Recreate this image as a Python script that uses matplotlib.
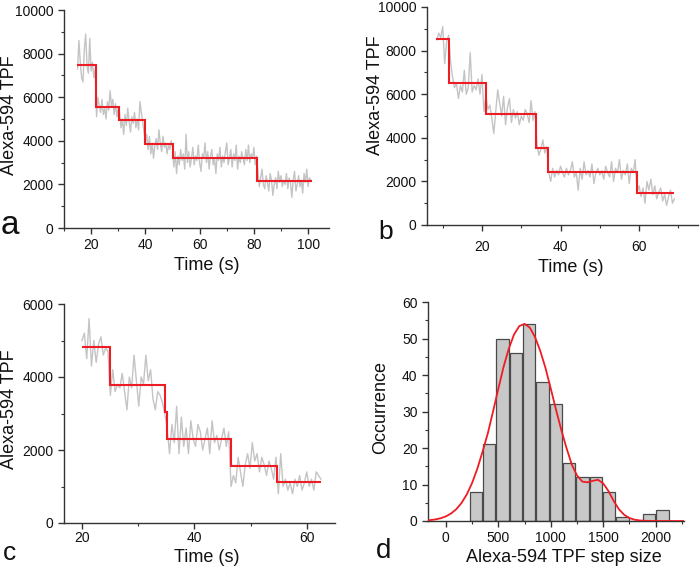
import numpy as np
import matplotlib
matplotlib.use("Agg")
import matplotlib.pyplot as plt
from matplotlib.ticker import MultipleLocator

plt.rcParams['font.family'] = ['Liberation Sans', 'DejaVu Sans']

# ---------------- data ----------------
# Panel a: raw trace (0.5 s sampling from 15 s to 101 s)
a_t_range = (15.0, 101.0)
a_trace = [7300, 8600, 7600, 6900, 6700, 8200, 8900, 7400, 7100, 8700, 7200, 7600, 6900, 7300,
           5100, 6000, 5600, 5300, 5900, 5200, 5500, 5000, 5800, 5400, 6300, 5600, 5900, 5200, 5700, 5100, 5500,
           5300, 4600, 5000, 4300, 5200, 4700, 5500, 4900, 4400, 5100, 4800, 5300, 4600, 5000, 4500, 5800, 5300, 4900, 4400,
           3900, 4300, 3600, 4200, 3400, 3900, 3200, 3800, 4100, 3600, 4500, 3900, 3500, 4200, 3700, 3900, 3400, 3800, 3600, 4000, 3700,
           2800, 3500, 2500, 3300, 2900, 3600, 3100, 3400, 2700, 4300, 3000, 3500, 2800, 3200, 3700, 2900, 3300, 3100, 3800, 3000,
           2600, 3400, 3200, 3900, 3000, 3500, 2700, 3300, 3600, 2900, 3200, 2500, 3400, 3100, 3700, 2800, 3300, 3000, 3500, 3900,
           2900, 3200, 3600, 2800, 3400, 3100, 3800, 2700, 3300, 3000, 3500, 3200, 2900, 3600, 3100, 3800, 3000, 3400, 3200, 3700,
           2900, 3300,
           2600, 1900, 2300, 2700, 2000, 1800, 2400, 2100, 1700, 2500, 2200, 1500, 2000, 2300, 1800, 2600, 2100, 2400, 1900, 2200,
           2000, 2500, 1800, 2300, 2100, 1400, 2200, 2600, 1700, 2000, 2400, 1900, 2200, 1600, 2500, 2100, 2700, 1900, 2300, 2200]
a_step_edges = [14.7, 21.8, 30.4, 39.9, 50.3, 81.1, 101.4]
a_step_levels = [7500, 5550, 4950, 3850, 3230, 2170]

# Panel b
b_t_range = (8.5, 69.0)
b_trace = [8500, 8800, 8600, 9100, 7400, 8400, 8700,
           7500, 6800, 6300, 6500, 5800, 6400, 6100, 7100, 6000, 6300, 7900, 6100, 6400, 6200, 6700, 6000, 6900, 5200,
           5900, 5300, 5500, 4900, 4200, 5200, 6200, 5600, 5000, 5900, 4600, 5400, 5800, 4700, 5300, 4900, 5200, 4600,
           5000, 4800, 5300, 5100, 4700, 5700, 4800, 5200,
           3700, 3200, 3500, 3900, 3300, 3600,
           2400, 2000, 2600, 2200, 2500, 2300, 2700, 2400, 2200, 2600, 2300, 2500, 2900, 2200, 2400, 1600, 2600, 2100, 2900, 2300,
           2500, 2200, 2800, 1900, 2400, 2600, 2300, 2500, 2100, 2700, 2400, 2200, 2900, 2000, 2600, 2400, 3000, 2100, 2500, 2300,
           2800, 1900, 2600, 2400, 3000,
           1500, 1800, 1300, 1700, 1000, 2000, 1600, 2100, 1400, 1800, 1200, 1500, 1700, 1100, 1400, 900, 1300, 1600, 1000, 1200]
b_step_edges = [8.3, 11.6, 20.9, 33.7, 36.7, 59.4, 68.9]
b_step_levels = [8550, 6505, 5070, 3527, 2428, 1480]

# Panel c
c_t_range = (20.0, 62.5)
c_trace = [5000, 5200, 4500, 5600, 4300, 5000, 4400, 4900, 5100, 4600, 4800, 4700,
           3500, 4200, 3600, 3800, 3700, 4100, 3600, 3100, 4000, 3700, 4600, 3900, 3200, 4000, 3800, 4600, 3900, 4200,
           3400, 3100, 3600, 3500, 3300,
           3000,
           2600, 1900, 2700, 2200, 3200, 1900, 2900, 2100, 2600, 1900, 2800, 2300, 2100, 2700, 2500, 2000, 2300, 2600,
           1900, 2800, 2200, 2400, 2000, 2300, 2600, 2100, 2500,
           1000, 1300, 1100, 1800, 1400, 1000, 1600, 1900, 1500, 2200, 1700, 1900, 1400, 1800, 1600, 1300, 1700, 1500, 1200, 1800,
           800, 1900, 1000, 1200, 900, 1100, 800, 1200, 1000, 1300, 900, 1100, 1400, 1000, 1200, 900, 1400, 1300, 1200]
c_step_edges = [20.0, 24.9, 34.7, 35.2, 46.5, 54.7, 62.5]
c_step_levels = [4830, 3790, 3030, 2300, 1560, 1115]

# Panel d: histogram of step sizes
d_bin_centers = [287, 414, 541, 668, 795, 922, 1049, 1176, 1303, 1430, 1557, 1684, 1811, 1938, 2065]
d_counts = [8, 21, 50, 46, 54, 38, 32, 16, 12, 12, 8, 1, 0, 2, 3]
d_fit_x = [-170, -150, -100, -50, 0, 50, 100, 150, 200, 250, 300, 350, 400, 450, 500, 550, 600, 650, 700,
           750, 800, 850, 900, 950, 1000, 1050, 1100, 1150, 1200, 1250, 1300, 1350, 1400, 1450, 1500,
           1550, 1600, 1650, 1700, 1750, 1800, 1850, 1900, 1950, 2000, 2100, 2270]
d_fit_y = [0.18, 0.24, 0.43, 0.75, 1.26, 2.06, 3.25, 4.96, 7.3, 10.4, 14.3, 19.0, 24.0, 30.0, 36.2, 42.2, 47.2, 51.1, 53.4,
           54.0, 53.0, 50.4, 46.6, 41.9, 36.3, 30.5, 25.0, 20.0, 15.5, 12.5, 10.8, 10.6, 11.0, 11.3, 10.3,
           8.2, 5.5, 3.2, 1.7, 0.8, 0.35, 0.15, 0.05, 0.02, 0.0, 0.0, 0.0]

# ---------------- figure ----------------
W, H = 700, 569
fig = plt.figure(figsize=(W / 100, H / 100), dpi=100)


def box(l, r, t, b):
    return [l / W, 1 - b / H, (r - l) / W, (b - t) / H]


ax_a = fig.add_axes(box(64, 329, 10, 228))
ax_b = fig.add_axes(box(427, 698, 7, 225))
ax_c = fig.add_axes(box(64, 335, 304, 523))
ax_d = fig.add_axes(box(428, 684, 302, 521))

gray = '#c4c4c4'
red = '#ee1c24'
axis_col = '#333333'


def style(ax):
    for s in ['top', 'right']:
        ax.spines[s].set_visible(False)
    for s in ['left', 'bottom']:
        ax.spines[s].set_color(axis_col)
        ax.spines[s].set_linewidth(1.0)
    ax.tick_params(which='major', direction='out', length=4, width=1, colors=axis_col,
                   labelsize=10, labelcolor='#111111')
    ax.tick_params(which='minor', direction='out', length=2, width=0.8, colors=axis_col)
    ax.set_facecolor('none')


def trace_panel(ax, trange, trace, edges, levels):
    t = np.linspace(trange[0], trange[1], len(trace))
    ax.plot(t, trace, color=gray, lw=1.0, zorder=2)
    ax.stairs(levels, edges, baseline=None, color=red, lw=1.5, zorder=3)


trace_panel(ax_a, a_t_range, a_trace, a_step_edges, a_step_levels)
ax_a.set_xlim(10, 107.7)
ax_a.set_ylim(0, 10000)
ax_a.xaxis.set_major_locator(MultipleLocator(20))
ax_a.xaxis.set_minor_locator(MultipleLocator(10))
ax_a.yaxis.set_major_locator(MultipleLocator(2000))
ax_a.yaxis.set_minor_locator(MultipleLocator(1000))
style(ax_a)

trace_panel(ax_b, b_t_range, b_trace, b_step_edges, b_step_levels)
ax_b.set_xlim(6, 75)
ax_b.set_ylim(0, 10000)
ax_b.xaxis.set_major_locator(MultipleLocator(20))
ax_b.xaxis.set_minor_locator(MultipleLocator(10))
ax_b.yaxis.set_major_locator(MultipleLocator(2000))
ax_b.yaxis.set_minor_locator(MultipleLocator(1000))
style(ax_b)
ax_b.tick_params(axis='x', which='major', pad=7)

trace_panel(ax_c, c_t_range, c_trace, c_step_edges, c_step_levels)
ax_c.set_xlim(16.8, 65)
ax_c.set_ylim(0, 6000)
ax_c.xaxis.set_major_locator(MultipleLocator(20))
ax_c.xaxis.set_minor_locator(MultipleLocator(10))
ax_c.yaxis.set_major_locator(MultipleLocator(2000))
ax_c.yaxis.set_minor_locator(MultipleLocator(1000))
style(ax_c)
ax_c.tick_params(axis='x', which='major', pad=1.5)

ax_d.bar(d_bin_centers, d_counts, width=118, color='#c8c8c8', edgecolor='#4a4a4a', linewidth=0.9, zorder=2)
ax_d.plot(d_fit_x, d_fit_y, color=red, lw=1.3, zorder=3)
ax_d.set_xlim(-170, 2270)
ax_d.set_ylim(0, 60)
ax_d.xaxis.set_major_locator(MultipleLocator(500))
ax_d.xaxis.set_minor_locator(MultipleLocator(250))
ax_d.yaxis.set_major_locator(MultipleLocator(10))
ax_d.yaxis.set_minor_locator(MultipleLocator(5))
style(ax_d)


def ftext(x, y, s, **kw):
    fig.text(x / W, 1 - y / H, s, ha='center', va='center', **kw)


lab = dict(fontsize=13, color='#111111')
ftext(207, 266, 'Time (s)', **lab)
ftext(10, 115, 'Alexa-594 TPF', rotation=90, **lab)
ftext(571, 268, 'Time (s)', **lab)
ftext(375, 95, 'Alexa-594 TPF', rotation=90, **lab)
ftext(207, 557, 'Time (s)', **lab)
ftext(10, 409, 'Alexa-594 TPF', rotation=90, **lab)
ftext(564, 557, 'Alexa-594 TPF step size', **lab)
ftext(381, 407, 'Occurrence', rotation=90, **lab)

let = dict(color='#111111')
ftext(10, 226, 'a', fontsize=24, **let)
ftext(386, 232, 'b', fontsize=19, **let)
ftext(9, 553, 'c', fontsize=19, **let)
ftext(384, 551, 'd', fontsize=20, **let)

fig.savefig('out.png', dpi=100)
